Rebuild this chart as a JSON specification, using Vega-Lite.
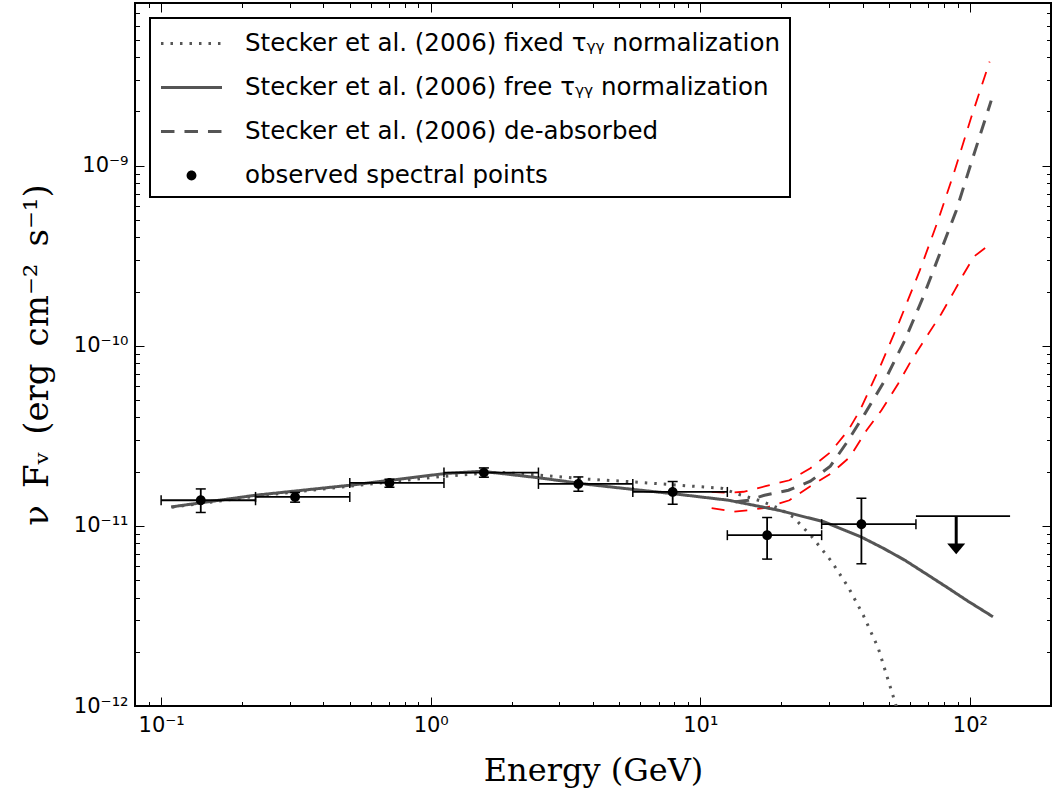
{
  "$schema": "https://vega.github.io/schema/vega-lite/v6.json",
  "width": 916,
  "height": 703,
  "autosize": "none",
  "padding": {"left": 135, "top": 3, "right": 2, "bottom": 87},
  "background": "white",
  "config": {
    "view": {"stroke": "black", "strokeWidth": 2},
    "axis": {"grid": false, "domain": false, "ticks": true, "tickColor": "black", "tickWidth": 1, "labelColor": "black", "titleColor": "black", "labelFlush": false, "labelOverlap": false},
    "legend": {
      "orient": "top-left", "offset": 15, "padding": 10,
      "strokeColor": "black", "fillColor": "white", "strokeWidth": 2, "cornerRadius": 0,
      "labelFont": "DejaVu Sans", "labelFontSize": 24.5, "labelColor": "black", "labelLimit": 1000, "labelOffset": 38,
      "symbolSize": 784, "symbolStrokeWidth": 3, "symbolOffset": 16, "rowPadding": 17,
      "symbolFillColor": "black", "symbolStrokeColor": "#555555"
    }
  },
  "datasets": {
    "obs": [
      {"series": "observed spectral points", "E": 0.1403, "F": 1.388e-11, "Flo": 1.187e-11, "Fhi": 1.604e-11, "Elo": 0.1, "Ehi": 0.224},
      {"series": "observed spectral points", "E": 0.314, "F": 1.448e-11, "Flo": 1.354e-11, "Fhi": 1.532e-11, "Elo": 0.224, "Ehi": 0.501},
      {"series": "observed spectral points", "E": 0.703, "F": 1.732e-11, "Flo": 1.639e-11, "Fhi": 1.816e-11, "Elo": 0.501, "Ehi": 1.12},
      {"series": "observed spectral points", "E": 1.575, "F": 1.978e-11, "Flo": 1.863e-11, "Fhi": 2.098e-11, "Elo": 1.12, "Ehi": 2.51},
      {"series": "observed spectral points", "E": 3.53, "F": 1.71e-11, "Flo": 1.557e-11, "Fhi": 1.87e-11, "Elo": 2.51, "Ehi": 5.62},
      {"series": "observed spectral points", "E": 7.9, "F": 1.543e-11, "Flo": 1.319e-11, "Fhi": 1.763e-11, "Elo": 5.62, "Ehi": 12.6},
      {"series": "observed spectral points", "E": 17.7, "F": 8.88e-12, "Flo": 6.54e-12, "Fhi": 1.113e-11, "Elo": 12.6, "Ehi": 28.2},
      {"series": "observed spectral points", "E": 39.6, "F": 1.022e-11, "Flo": 6.16e-12, "Fhi": 1.424e-11, "Elo": 28.2, "Ehi": 63.1}
    ],
    "ul": [
      {"E": 89, "F": 1.132e-11, "Fshaft": 7.81e-12, "Fhead": 7.46e-12, "Elo": 63.1, "Ehi": 141}
    ],
    "model": [
      {"series": "Stecker et al. (2006) fixed τᵧᵧ normalization", "E": 0.1098, "F": 1.27e-11},
      {"series": "Stecker et al. (2006) fixed τᵧᵧ normalization", "E": 0.224, "F": 1.461e-11},
      {"series": "Stecker et al. (2006) fixed τᵧᵧ normalization", "E": 0.503, "F": 1.661e-11},
      {"series": "Stecker et al. (2006) fixed τᵧᵧ normalization", "E": 1.13, "F": 1.887e-11},
      {"series": "Stecker et al. (2006) fixed τᵧᵧ normalization", "E": 1.796, "F": 1.986e-11},
      {"series": "Stecker et al. (2006) fixed τᵧᵧ normalization", "E": 2.54, "F": 1.911e-11},
      {"series": "Stecker et al. (2006) fixed τᵧᵧ normalization", "E": 3.865, "F": 1.816e-11},
      {"series": "Stecker et al. (2006) fixed τᵧᵧ normalization", "E": 5.67, "F": 1.754e-11},
      {"series": "Stecker et al. (2006) fixed τᵧᵧ normalization", "E": 8.32, "F": 1.682e-11},
      {"series": "Stecker et al. (2006) fixed τᵧᵧ normalization", "E": 12.0, "F": 1.618e-11},
      {"series": "Stecker et al. (2006) fixed τᵧᵧ normalization", "E": 13.87, "F": 1.499e-11},
      {"series": "Stecker et al. (2006) fixed τᵧᵧ normalization", "E": 16.87, "F": 1.371e-11},
      {"series": "Stecker et al. (2006) fixed τᵧᵧ normalization", "E": 19.5, "F": 1.254e-11},
      {"series": "Stecker et al. (2006) fixed τᵧᵧ normalization", "E": 22.16, "F": 1.117e-11},
      {"series": "Stecker et al. (2006) fixed τᵧᵧ normalization", "E": 25.83, "F": 8.77e-12},
      {"series": "Stecker et al. (2006) fixed τᵧᵧ normalization", "E": 30.63, "F": 6.37e-12},
      {"series": "Stecker et al. (2006) fixed τᵧᵧ normalization", "E": 35.4, "F": 4.57e-12},
      {"series": "Stecker et al. (2006) fixed τᵧᵧ normalization", "E": 40.22, "F": 3.2e-12},
      {"series": "Stecker et al. (2006) fixed τᵧᵧ normalization", "E": 45.71, "F": 2.1e-12},
      {"series": "Stecker et al. (2006) fixed τᵧᵧ normalization", "E": 53.3, "F": 1.0e-12},
      {"series": "Stecker et al. (2006) fixed τᵧᵧ normalization", "E": 57.05, "F": 6.9e-13},
      {"series": "Stecker et al. (2006) free τᵧᵧ normalization", "E": 0.1089, "F": 1.274e-11},
      {"series": "Stecker et al. (2006) free τᵧᵧ normalization", "E": 0.224, "F": 1.48e-11},
      {"series": "Stecker et al. (2006) free τᵧᵧ normalization", "E": 0.503, "F": 1.682e-11},
      {"series": "Stecker et al. (2006) free τᵧᵧ normalization", "E": 1.13, "F": 1.953e-11},
      {"series": "Stecker et al. (2006) free τᵧᵧ normalization", "E": 1.55, "F": 2.011e-11},
      {"series": "Stecker et al. (2006) free τᵧᵧ normalization", "E": 2.54, "F": 1.846e-11},
      {"series": "Stecker et al. (2006) free τᵧᵧ normalization", "E": 3.865, "F": 1.697e-11},
      {"series": "Stecker et al. (2006) free τᵧᵧ normalization", "E": 5.67, "F": 1.592e-11},
      {"series": "Stecker et al. (2006) free τᵧᵧ normalization", "E": 7.817, "F": 1.513e-11},
      {"series": "Stecker et al. (2006) free τᵧᵧ normalization", "E": 12.74, "F": 1.388e-11},
      {"series": "Stecker et al. (2006) free τᵧᵧ normalization", "E": 19.5, "F": 1.222e-11},
      {"series": "Stecker et al. (2006) free τᵧᵧ normalization", "E": 28.86, "F": 1.052e-11},
      {"series": "Stecker et al. (2006) free τᵧᵧ normalization", "E": 39.45, "F": 8.69e-12},
      {"series": "Stecker et al. (2006) free τᵧᵧ normalization", "E": 47.7, "F": 7.52e-12},
      {"series": "Stecker et al. (2006) free τᵧᵧ normalization", "E": 57.38, "F": 6.45e-12},
      {"series": "Stecker et al. (2006) free τᵧᵧ normalization", "E": 69.98, "F": 5.33e-12},
      {"series": "Stecker et al. (2006) free τᵧᵧ normalization", "E": 82.99, "F": 4.52e-12},
      {"series": "Stecker et al. (2006) free τᵧᵧ normalization", "E": 98.4, "F": 3.82e-12},
      {"series": "Stecker et al. (2006) free τᵧᵧ normalization", "E": 121.8, "F": 3.13e-12},
      {"series": "Stecker et al. (2006) de-absorbed", "E": 13.52, "F": 1.362e-11},
      {"series": "Stecker et al. (2006) de-absorbed", "E": 15.1, "F": 1.388e-11},
      {"series": "Stecker et al. (2006) de-absorbed", "E": 17.31, "F": 1.48e-11},
      {"series": "Stecker et al. (2006) de-absorbed", "E": 21.24, "F": 1.578e-11},
      {"series": "Stecker et al. (2006) de-absorbed", "E": 25.61, "F": 1.77e-11},
      {"series": "Stecker et al. (2006) de-absorbed", "E": 30.37, "F": 2.144e-11},
      {"series": "Stecker et al. (2006) de-absorbed", "E": 34.8, "F": 2.875e-11},
      {"series": "Stecker et al. (2006) de-absorbed", "E": 40.81, "F": 4.2e-11},
      {"series": "Stecker et al. (2006) de-absorbed", "E": 48.39, "F": 6.43e-11},
      {"series": "Stecker et al. (2006) de-absorbed", "E": 57.38, "F": 1.072e-10},
      {"series": "Stecker et al. (2006) de-absorbed", "E": 67.08, "F": 1.862e-10},
      {"series": "Stecker et al. (2006) de-absorbed", "E": 77.33, "F": 3.242e-10},
      {"series": "Stecker et al. (2006) de-absorbed", "E": 89.07, "F": 5.64e-10},
      {"series": "Stecker et al. (2006) de-absorbed", "E": 102.7, "F": 1.113e-9},
      {"series": "Stecker et al. (2006) de-absorbed", "E": 120.0, "F": 2.297e-9}
    ],
    "bands": [
      {"band": "upper", "E": 11.02, "F": 1.543e-11},
      {"band": "upper", "E": 12.74, "F": 1.528e-11},
      {"band": "upper", "E": 14.47, "F": 1.547e-11},
      {"band": "upper", "E": 17.46, "F": 1.661e-11},
      {"band": "upper", "E": 21.42, "F": 1.792e-11},
      {"band": "upper", "E": 25.61, "F": 2.089e-11},
      {"band": "upper", "E": 30.37, "F": 2.563e-11},
      {"band": "upper", "E": 35.4, "F": 3.395e-11},
      {"band": "upper", "E": 39.12, "F": 4.38e-11},
      {"band": "upper", "E": 46.38, "F": 7.62e-11},
      {"band": "upper", "E": 54.99, "F": 1.383e-10},
      {"band": "upper", "E": 65.22, "F": 2.62e-10},
      {"band": "upper", "E": 76.21, "F": 4.96e-10},
      {"band": "upper", "E": 87.86, "F": 9.39e-10},
      {"band": "upper", "E": 101.2, "F": 1.855e-9},
      {"band": "upper", "E": 118.4, "F": 3.78e-9},
      {"band": "lower", "E": 11.02, "F": 1.254e-11},
      {"band": "lower", "E": 13.29, "F": 1.199e-11},
      {"band": "lower", "E": 15.1, "F": 1.222e-11},
      {"band": "lower", "E": 17.46, "F": 1.261e-11},
      {"band": "lower", "E": 21.42, "F": 1.388e-11},
      {"band": "lower", "E": 25.61, "F": 1.661e-11},
      {"band": "lower", "E": 30.63, "F": 1.96e-11},
      {"band": "lower", "E": 35.92, "F": 2.414e-11},
      {"band": "lower", "E": 41.39, "F": 3.395e-11},
      {"band": "lower", "E": 47.0, "F": 4.38e-11},
      {"band": "lower", "E": 54.2, "F": 6.16e-11},
      {"band": "lower", "E": 60.7, "F": 8.3e-11},
      {"band": "lower", "E": 68.98, "F": 1.118e-10},
      {"band": "lower", "E": 78.4, "F": 1.507e-10},
      {"band": "lower", "E": 87.86, "F": 2.029e-10},
      {"band": "lower", "E": 95.1, "F": 2.521e-10},
      {"band": "lower", "E": 103.6, "F": 3.13e-10},
      {"band": "lower", "E": 115.0, "F": 3.53e-10}
    ]
  },
  "resolve": {"axis": {"x": "independent", "y": "independent"}},
  "layer": [
    {
      "data": {"name": "obs"},
      "mark": {"type": "point", "opacity": 0},
      "encoding": {
        "x": {"field": "E", "type": "quantitative", "scale": {"type": "log", "domain": [0.08, 200], "nice": false},
          "axis": {"orient": "bottom", "values": [0.1, 1, 10, 100], "tickSize": -9, "labelExpr": "datum.value < 0.5 ? '10⁻¹' : datum.value < 5 ? '10⁰' : datum.value < 50 ? '10¹' : '10²'", "labelFont": "DejaVu Sans", "labelFontSize": 21, "labelPadding": 17, "title": "Energy (GeV)", "titleFont": "DejaVu Serif", "titleFontSize": 32, "titleFontWeight": "normal", "titleY": 74, "titleBaseline": "alphabetic"}},
        "y": {"field": "F", "type": "quantitative", "scale": {"type": "log", "domain": [1e-12, 8e-9], "nice": false},
          "axis": {"orient": "left", "values": [1e-12, 1e-11, 1e-10, 1e-9], "tickSize": -9, "labelExpr": "datum.value < 5e-12 ? '10⁻¹²' : datum.value < 5e-11 ? '10⁻¹¹' : datum.value < 5e-10 ? '10⁻¹⁰' : '10⁻⁹'", "labelFont": "DejaVu Sans", "labelFontSize": 21, "labelPadding": 16, "title": "ν\u2002Fᵥ\u2002(erg\u2002cm⁻²\u2002s⁻¹)", "titleFont": "DejaVu Serif", "titleFontSize": 34, "titleFontWeight": "normal", "titleX": -88, "titleBaseline": "alphabetic"}}
      }
    },
    {
      "data": {"name": "obs"},
      "mark": {"type": "point", "opacity": 0},
      "encoding": {
        "x": {"field": "E", "type": "quantitative", "scale": {"type": "log", "domain": [0.08, 200], "nice": false},
          "axis": {"orient": "bottom", "values": [0.09, 0.2, 0.3, 0.4, 0.5, 0.6, 0.7, 0.8, 0.9, 2, 3, 4, 5, 6, 7, 8, 9, 20, 30, 40, 50, 60, 70, 80, 90], "tickSize": -4.5, "labels": false, "title": null}},
        "y": {"field": "F", "type": "quantitative", "scale": {"type": "log", "domain": [1e-12, 8e-9], "nice": false},
          "axis": {"orient": "left", "values": [2e-12, 3e-12, 4e-12, 5e-12, 6e-12, 7e-12, 8e-12, 9e-12, 2e-11, 3e-11, 4e-11, 5e-11, 6e-11, 7e-11, 8e-11, 9e-11, 2e-10, 3e-10, 4e-10, 5e-10, 6e-10, 7e-10, 8e-10, 9e-10, 2e-9, 3e-9, 4e-9, 5e-9, 6e-9, 7e-9], "tickSize": -4.5, "labels": false, "title": null}}
      }
    },
    {
      "data": {"name": "obs"},
      "mark": {"type": "point", "opacity": 0},
      "encoding": {
        "x": {"field": "E", "type": "quantitative", "scale": {"type": "log", "domain": [0.08, 200], "nice": false},
          "axis": {"orient": "top", "values": [0.1, 1, 10, 100], "tickSize": -9, "labels": false, "title": null}},
        "y": {"field": "F", "type": "quantitative", "scale": {"type": "log", "domain": [1e-12, 8e-9], "nice": false},
          "axis": {"orient": "right", "values": [1e-12, 1e-11, 1e-10, 1e-9], "tickSize": -9, "labels": false, "title": null}}
      }
    },
    {
      "data": {"name": "obs"},
      "mark": {"type": "point", "opacity": 0},
      "encoding": {
        "x": {"field": "E", "type": "quantitative", "scale": {"type": "log", "domain": [0.08, 200], "nice": false},
          "axis": {"orient": "top", "values": [0.09, 0.2, 0.3, 0.4, 0.5, 0.6, 0.7, 0.8, 0.9, 2, 3, 4, 5, 6, 7, 8, 9, 20, 30, 40, 50, 60, 70, 80, 90], "tickSize": -4.5, "labels": false, "title": null}},
        "y": {"field": "F", "type": "quantitative", "scale": {"type": "log", "domain": [1e-12, 8e-9], "nice": false},
          "axis": {"orient": "right", "values": [2e-12, 3e-12, 4e-12, 5e-12, 6e-12, 7e-12, 8e-12, 9e-12, 2e-11, 3e-11, 4e-11, 5e-11, 6e-11, 7e-11, 8e-11, 9e-11, 2e-10, 3e-10, 4e-10, 5e-10, 6e-10, 7e-10, 8e-10, 9e-10, 2e-9, 3e-9, 4e-9, 5e-9, 6e-9, 7e-9], "tickSize": -4.5, "labels": false, "title": null}}
      }
    },
    {
      "data": {"name": "bands"},
      "mark": {"type": "line", "color": "#ff0000", "strokeWidth": 1.8, "strokeDash": [13, 10], "clip": true},
      "encoding": {
        "x": {"field": "E", "type": "quantitative", "scale": {"type": "log", "domain": [0.08, 200], "nice": false}, "axis": null},
        "y": {"field": "F", "type": "quantitative", "scale": {"type": "log", "domain": [1e-12, 8e-9], "nice": false}, "axis": null},
        "detail": {"field": "band", "type": "nominal"}
      }
    },
    {
      "data": {"name": "model"},
      "mark": {"type": "line", "strokeWidth": 3, "clip": true},
      "encoding": {
        "x": {"field": "E", "type": "quantitative", "scale": {"type": "log", "domain": [0.08, 200], "nice": false}, "axis": null},
        "y": {"field": "F", "type": "quantitative", "scale": {"type": "log", "domain": [1e-12, 8e-9], "nice": false}, "axis": null},
        "strokeDash": {"field": "series", "type": "nominal",
          "scale": {"domain": ["Stecker et al. (2006) fixed τᵧᵧ normalization", "Stecker et al. (2006) free τᵧᵧ normalization", "Stecker et al. (2006) de-absorbed", "observed spectral points"], "range": [[2.5, 7], [1, 0], [13.5, 10], [0, 1000]]},
          "legend": {"title": null}
        },
        "stroke": {"field": "series", "type": "nominal",
          "scale": {"domain": ["Stecker et al. (2006) fixed τᵧᵧ normalization", "Stecker et al. (2006) free τᵧᵧ normalization", "Stecker et al. (2006) de-absorbed", "observed spectral points"], "range": ["#555555", "#555555", "#555555", "#555555"]},
          "legend": {"title": null}
        }
      }
    },
    {
      "data": {"name": "obs"},
      "mark": {"type": "rule", "color": "black", "strokeWidth": 1.8},
      "encoding": {
        "x": {"field": "E", "type": "quantitative", "scale": {"type": "log", "domain": [0.08, 200], "nice": false}, "axis": null},
        "y": {"field": "Flo", "type": "quantitative", "scale": {"type": "log", "domain": [1e-12, 8e-9], "nice": false}, "axis": null},
        "y2": {"field": "Fhi"}
      }
    },
    {
      "data": {"name": "obs"},
      "mark": {"type": "rule", "color": "black", "strokeWidth": 1.8},
      "encoding": {
        "x": {"field": "Elo", "type": "quantitative", "scale": {"type": "log", "domain": [0.08, 200], "nice": false}, "axis": null},
        "x2": {"field": "Ehi"},
        "y": {"field": "F", "type": "quantitative", "scale": {"type": "log", "domain": [1e-12, 8e-9], "nice": false}, "axis": null}
      }
    },
    {
      "data": {"name": "obs"},
      "mark": {"type": "tick", "color": "black", "orient": "horizontal", "size": 10, "thickness": 1.5, "opacity": 1},
      "encoding": {
        "x": {"field": "E", "type": "quantitative", "scale": {"type": "log", "domain": [0.08, 200], "nice": false}, "axis": null},
        "y": {"field": "Flo", "type": "quantitative", "scale": {"type": "log", "domain": [1e-12, 8e-9], "nice": false}, "axis": null}
      }
    },
    {
      "data": {"name": "obs"},
      "mark": {"type": "tick", "color": "black", "orient": "horizontal", "size": 10, "thickness": 1.5, "opacity": 1},
      "encoding": {
        "x": {"field": "E", "type": "quantitative", "scale": {"type": "log", "domain": [0.08, 200], "nice": false}, "axis": null},
        "y": {"field": "Fhi", "type": "quantitative", "scale": {"type": "log", "domain": [1e-12, 8e-9], "nice": false}, "axis": null}
      }
    },
    {
      "data": {"name": "obs"},
      "mark": {"type": "tick", "color": "black", "orient": "vertical", "size": 10, "thickness": 1.5, "opacity": 1},
      "encoding": {
        "x": {"field": "Elo", "type": "quantitative", "scale": {"type": "log", "domain": [0.08, 200], "nice": false}, "axis": null},
        "y": {"field": "F", "type": "quantitative", "scale": {"type": "log", "domain": [1e-12, 8e-9], "nice": false}, "axis": null}
      }
    },
    {
      "data": {"name": "obs"},
      "mark": {"type": "tick", "color": "black", "orient": "vertical", "size": 10, "thickness": 1.5, "opacity": 1},
      "encoding": {
        "x": {"field": "Ehi", "type": "quantitative", "scale": {"type": "log", "domain": [0.08, 200], "nice": false}, "axis": null},
        "y": {"field": "F", "type": "quantitative", "scale": {"type": "log", "domain": [1e-12, 8e-9], "nice": false}, "axis": null}
      }
    },
    {
      "data": {"name": "obs"},
      "mark": {"type": "point", "filled": true, "color": "black", "size": 784, "opacity": 1},
      "encoding": {
        "x": {"field": "E", "type": "quantitative", "scale": {"type": "log", "domain": [0.08, 200], "nice": false}, "axis": null},
        "y": {"field": "F", "type": "quantitative", "scale": {"type": "log", "domain": [1e-12, 8e-9], "nice": false}, "axis": null},
        "shape": {"field": "series", "type": "nominal",
          "scale": {"domain": ["Stecker et al. (2006) fixed τᵧᵧ normalization", "Stecker et al. (2006) free τᵧᵧ normalization", "Stecker et al. (2006) de-absorbed", "observed spectral points"], "range": ["M-2.18,0H2.18", "M-2.18,0H2.18", "M-2.18,0H2.18", "M-0.35,0A0.35,0.35,0,1,1,0.35,0A0.35,0.35,0,1,1,-0.35,0Z"]},
          "legend": {"title": null}
        }
      }
    },
    {
      "data": {"name": "ul"},
      "mark": {"type": "rule", "color": "black", "strokeWidth": 1.8},
      "encoding": {
        "x": {"field": "Elo", "type": "quantitative", "scale": {"type": "log", "domain": [0.08, 200], "nice": false}, "axis": null},
        "x2": {"field": "Ehi"},
        "y": {"field": "F", "type": "quantitative", "scale": {"type": "log", "domain": [1e-12, 8e-9], "nice": false}, "axis": null}
      }
    },
    {
      "data": {"name": "ul"},
      "mark": {"type": "rule", "color": "black", "strokeWidth": 3},
      "encoding": {
        "x": {"field": "E", "type": "quantitative", "scale": {"type": "log", "domain": [0.08, 200], "nice": false}, "axis": null},
        "y": {"field": "F", "type": "quantitative", "scale": {"type": "log", "domain": [1e-12, 8e-9], "nice": false}, "axis": null},
        "y2": {"field": "Fshaft"}
      }
    },
    {
      "data": {"name": "ul"},
      "mark": {"type": "point", "shape": "M-1,-0.6L1,-0.6L0,0.6Z", "filled": true, "color": "black", "size": 324, "opacity": 1},
      "encoding": {
        "x": {"field": "E", "type": "quantitative", "scale": {"type": "log", "domain": [0.08, 200], "nice": false}, "axis": null},
        "y": {"field": "Fhead", "type": "quantitative", "scale": {"type": "log", "domain": [1e-12, 8e-9], "nice": false}, "axis": null}
      }
    }
  ]
}
